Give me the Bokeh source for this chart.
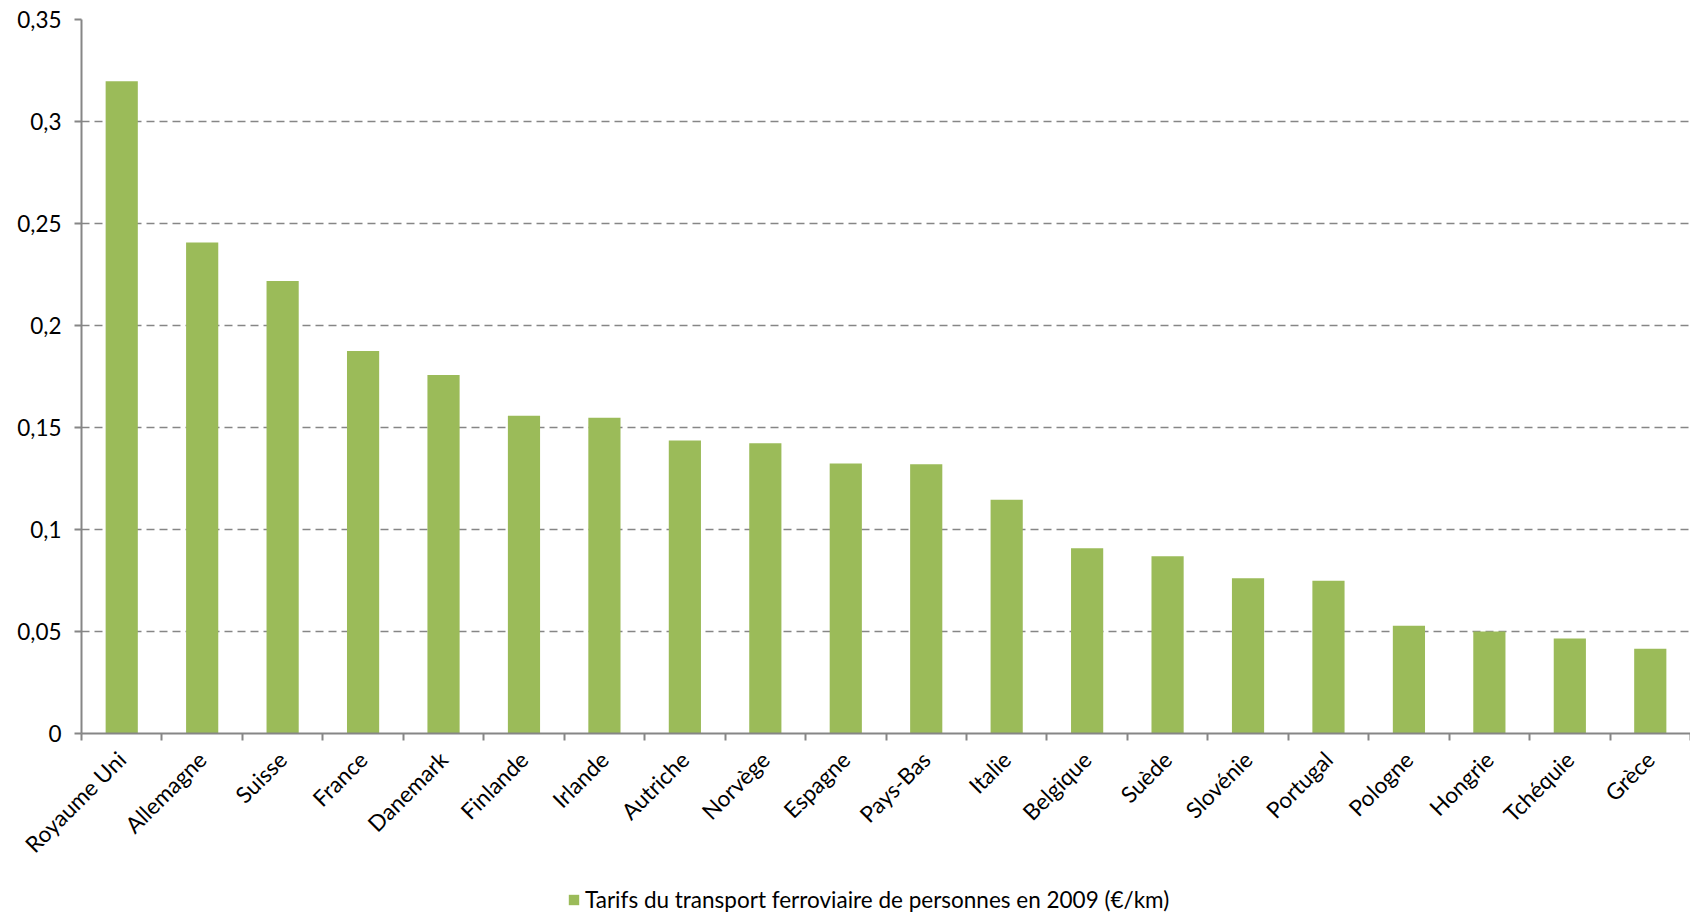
import math
from bokeh.plotting import figure
from bokeh.layouts import column
from bokeh.models import (ColumnDataSource, Range1d, FixedTicker, Legend, LegendItem)
from bokeh.embed import file_html
from bokeh.resources import INLINE

countries = ["Royaume Uni", "Allemagne", "Suisse", "France", "Danemark", "Finlande",
             "Irlande", "Autriche", "Norvège", "Espagne", "Pays-Bas", "Italie",
             "Belgique", "Suède", "Slovénie", "Portugal", "Pologne", "Hongrie",
             "Tchéquie", "Grèce"]
tarifs = [0.3197, 0.2407, 0.2218, 0.1875, 0.1757, 0.1557,
          0.1548, 0.1436, 0.1423, 0.1323, 0.1320, 0.1146,
          0.0908, 0.0869, 0.0761, 0.0749, 0.0528, 0.0500,
          0.0466, 0.0415]
y_ticks = [0, 0.05, 0.1, 0.15, 0.2, 0.25, 0.3, 0.35]
y_tick_labels = ["0", "0,05", "0,1", "0,15", "0,2", "0,25", "0,3", "0,35"]
series_name = "Tarifs du transport ferroviaire de personnes en 2009 (€/km)"

FONT = "Lato"
GRAY = "#868686"
GREEN = "#9BBB59"

idx = list(range(len(countries)))
source = ColumnDataSource(data=dict(x=idx, top=tarifs, name=countries))

p = figure(width=1690, height=870, output_backend="svg", toolbar_location=None,
           x_range=Range1d(-0.5, len(countries) - 0.5), y_range=Range1d(0, 0.35),
           min_border_left=81, min_border_right=0, min_border_top=19,
           min_border_bottom=137)
p.outline_line_color = None
p.background_fill_color = "white"
p.border_fill_color = "white"

r = p.vbar(x="x", top="top", width=0.4, source=source, fill_color=GREEN, line_color=None)

# x axis
xa = p.xaxis[0]
xa.ticker = FixedTicker(ticks=idx, minor_ticks=[i - 0.5 for i in range(len(countries) + 1)])
xa.major_label_overrides = {i: c for i, c in zip(idx, countries)}
xa.major_label_orientation = math.pi / 4
xa.major_tick_out = 0
xa.major_tick_in = 0
xa.minor_tick_out = 7
xa.minor_tick_in = 0
xa.minor_tick_line_color = GRAY
xa.minor_tick_line_width = 2
xa.axis_line_color = GRAY
xa.axis_line_width = 2
xa.major_label_text_font = FONT
xa.major_label_text_font_size = "22.5px"
xa.major_label_text_color = "black"
xa.major_label_standoff = 15

# y axis
ya = p.yaxis[0]
ya.ticker = FixedTicker(ticks=y_ticks)
ya.major_label_overrides = {t: l for t, l in zip(y_ticks, y_tick_labels)}
ya.major_tick_out = 7
ya.major_tick_in = 0
ya.major_tick_line_color = GRAY
ya.major_tick_line_width = 2
ya.minor_tick_line_color = None
ya.axis_line_color = GRAY
ya.axis_line_width = 2
ya.major_label_text_font = FONT
ya.major_label_text_font_size = "22.5px"
ya.major_label_text_color = "black"
ya.major_label_standoff = 13

p.xgrid.grid_line_color = None
p.ygrid.ticker = FixedTicker(ticks=y_ticks[1:])
p.ygrid.grid_line_color = GRAY
p.ygrid.grid_line_dash = "8 5"
p.ygrid.grid_line_width = 1.5

# legend strip below the chart
pl = figure(width=1690, height=44, output_backend="svg", toolbar_location=None,
            x_axis_location=None, y_axis_location=None,
            x_range=Range1d(0, 1), y_range=Range1d(0, 1),
            min_border=0, min_border_left=0, min_border_right=0,
            min_border_top=0, min_border_bottom=0)
pl.outline_line_color = None
pl.xgrid.grid_line_color = None
pl.ygrid.grid_line_color = None
# proxy glyph for the legend swatch, placed outside the visible range
proxy = pl.vbar(x=[5], top=[5], bottom=[4], width=0.4, fill_color=GREEN, line_color=None)
legend = Legend(items=[LegendItem(label=series_name, renderers=[proxy])],
                location=(486, 1), orientation="horizontal",
                label_text_font=FONT, label_text_font_size="22.5px",
                label_text_color="black", glyph_width=13, glyph_height=13,
                label_standoff=5, padding=0, margin=0, spacing=0,
                border_line_color=None, background_fill_alpha=0)
pl.add_layout(legend, "center")

layout = column(p, pl, spacing=0)
open("out.html", "w").write(file_html(layout, INLINE))
